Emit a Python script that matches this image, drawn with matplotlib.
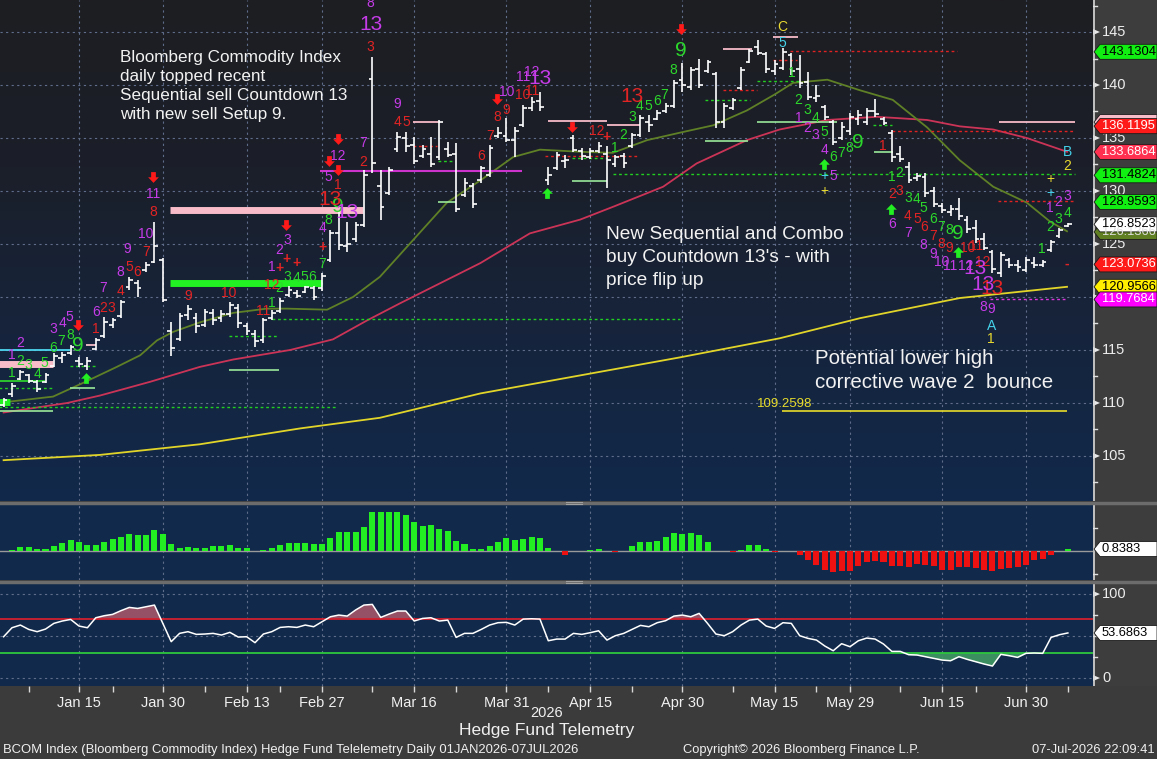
import numpy as np
import matplotlib.pyplot as plt
from matplotlib.colors import LinearSegmentedColormap
from matplotlib.path import Path
from matplotlib.patches import Polygon
from matplotlib.lines import Line2D

plt.rcParams['font.family'] = ['Liberation Sans', 'DejaVu Sans']

# ---- price bars (BCOM daily, 02-Jan-2026 .. 07-Jul-2026, one entry per trading day)
highs = [110.5, 111.9, 113.1, 112.7, 112.2, 112.8, 114.7, 114.8, 115.5, 114.3,
         114.3, 116.1, 118.1, 118.0, 119.7, 121.9, 121.6, 123.3, 127.1, 123.7,
         117.6, 118.5, 119.2, 118.5, 118.9, 118.9, 118.8, 119.5, 119.3, 117.5,
         116.9, 118.0, 118.8, 119.9, 121.0, 120.7, 121.0, 121.0, 122.3, 126.3,
         128.0, 127.1, 127.1, 132.0, 142.6, 132.0, 132.3, 135.6, 135.6, 135.1,
         134.3, 135.1, 136.7, 134.6, 134.5, 131.2, 130.8, 132.4, 134.3, 136.0,
         136.9, 136.0, 138.1, 138.9, 139.3, 132.3, 133.7, 133.4, 135.3, 134.1,
         134.1, 134.6, 134.2, 133.4, 133.6, 135.5, 137.2, 137.2, 137.6, 138.3,
         140.5, 142.1, 141.7, 142.5, 142.4, 141.2, 138.3, 138.8, 141.7, 143.4,
         144.2, 143.1, 142.4, 143.5, 143.0, 142.8, 141.2, 140.0, 138.1, 136.7,
         136.5, 137.4, 137.6, 137.8, 138.7, 137.0, 135.8, 134.2, 132.7, 131.7,
         131.7, 130.4, 128.9, 128.7, 129.3, 127.6, 127.3, 126.0, 124.4, 124.2,
         123.7, 123.5, 123.8, 123.8, 123.5, 125.4, 126.5, 127.0]
lows = [109.6, 110.6, 112.2, 111.9, 111.0, 111.9, 113.4, 113.8, 114.5, 113.4,
        113.1, 115.0, 116.1, 117.1, 118.0, 120.7, 120.0, 122.4, 123.2, 119.5,
        114.4, 115.8, 117.8, 116.6, 117.2, 117.4, 117.6, 118.1, 117.1, 116.4,
        115.3, 115.7, 117.8, 118.5, 120.0, 119.9, 120.4, 119.7, 120.6, 123.3,
        124.4, 124.2, 125.2, 126.6, 131.7, 127.3, 129.6, 133.7, 133.7, 132.5,
        133.1, 132.3, 132.9, 133.2, 128.0, 129.4, 128.4, 130.8, 131.3, 135.0,
        134.6, 133.2, 136.0, 137.5, 137.5, 130.6, 132.0, 132.2, 133.7, 132.9,
        133.0, 133.6, 130.3, 132.3, 132.2, 134.1, 135.1, 135.6, 136.7, 137.4,
        137.8, 139.3, 139.5, 139.7, 141.1, 135.9, 135.9, 137.6, 139.5, 142.1,
        142.8, 141.1, 140.9, 141.4, 140.9, 139.7, 138.6, 138.4, 136.7, 134.3,
        134.8, 135.3, 136.2, 136.2, 137.0, 136.2, 132.7, 132.7, 130.8, 130.9,
        129.4, 128.5, 127.9, 127.6, 127.3, 126.0, 125.1, 124.4, 122.3, 121.9,
        122.7, 122.4, 122.4, 122.7, 122.8, 124.2, 125.6, 126.6]
opens = [109.8, 110.8, 112.3, 112.6, 112.0, 112.0, 113.5, 114.2, 114.7, 114.0,
         113.5, 115.1, 116.3, 117.4, 118.2, 120.9, 121.3, 122.5, 123.3, 123.5,
         116.8, 116.0, 118.3, 118.0, 117.4, 118.5, 118.0, 118.4, 119.0, 117.3,
         116.5, 115.9, 118.0, 118.7, 120.2, 120.4, 120.5, 120.8, 120.8, 123.5,
         126.0, 124.8, 125.5, 126.8, 140.6, 130.5, 129.8, 134.0, 135.0, 134.3,
         133.3, 133.5, 133.2, 134.0, 133.5, 129.6, 130.5, 131.0, 131.5, 135.2,
         135.2, 134.8, 136.2, 137.8, 138.5, 131.0, 132.2, 132.8, 135.0, 133.8,
         133.2, 133.8, 133.5, 132.5, 133.3, 134.2, 135.3, 136.5, 136.8, 137.5,
         138.0, 140.5, 139.8, 141.5, 141.3, 141.0, 136.5, 137.8, 139.7, 142.2,
         143.6, 142.9, 141.3, 141.6, 142.8, 141.5, 140.3, 138.8, 137.9, 136.5,
         135.0, 135.7, 136.8, 136.5, 137.5, 136.8, 135.5, 133.5, 132.3, 131.2,
         131.3, 130.0, 128.6, 128.0, 128.3, 127.3, 126.5, 125.5, 124.2, 122.3,
         123.5, 123.0, 122.5, 123.2, 123.0, 124.4, 125.8, 126.7]
closes = [110.3, 111.6, 112.9, 112.1, 111.3, 112.6, 114.4, 114.5, 115.3, 113.7,
          114.0, 115.9, 117.6, 117.8, 119.5, 121.6, 120.8, 123.0, 124.8, 119.7,
          115.2, 118.2, 118.9, 117.3, 118.6, 117.8, 118.4, 119.2, 117.5, 116.8,
          115.8, 117.8, 118.5, 119.6, 120.7, 120.1, 120.9, 120.0, 122.0, 126.0,
          124.9, 125.0, 126.8, 131.5, 132.6, 128.5, 132.0, 135.1, 134.2, 132.8,
          134.0, 132.5, 136.5, 133.4, 128.3, 130.8, 128.8, 132.2, 134.1, 135.5,
          134.8, 135.7, 137.8, 138.4, 137.9, 131.5, 133.4, 132.9, 133.9, 133.3,
          133.8, 134.2, 132.9, 133.2, 132.6, 135.3, 136.9, 136.2, 137.4, 138.0,
          140.2, 140.0, 141.4, 140.0, 142.2, 136.5, 138.0, 138.6, 141.4, 143.2,
          143.0, 141.5, 142.0, 143.1, 141.3, 140.2, 138.9, 139.0, 137.0, 134.6,
          136.0, 137.0, 137.2, 137.5, 137.3, 136.4, 133.2, 133.0, 131.0, 131.4,
          129.8, 128.8, 128.2, 128.3, 127.6, 126.4, 125.5, 124.6, 122.6, 124.0,
          123.0, 122.8, 123.5, 123.0, 123.3, 125.2, 126.3, 126.85]

# ---- moving averages (bar index, value)
ma_fast_idx = [0.4, 5.9, 9.5, 13.5, 16.3, 18.3, 20.2, 23.4, 27.4, 31.4, 33.8, 38.6,
               41.7, 44.9, 48.9, 52.9, 56.9, 60.8, 64.0, 68.8, 72.7, 76.8, 80.7, 84.7,
               88.7, 92.0, 94.2, 98.3, 102.2, 106.1, 110.2, 114.1, 118.1, 122.1, 124.9, 126.9]
ma_fast = [110.1, 110.6, 111.9, 113.4, 114.5, 115.9, 116.7, 117.6, 118.5, 118.9, 118.9, 118.8,
           120.0, 121.9, 125.4, 128.9, 131.0, 133.2, 133.9, 133.7, 133.6, 134.8, 135.5, 136.2,
           137.6, 139.1, 140.2, 140.5, 139.5, 138.6, 136.0, 132.9, 130.4, 128.9, 127.1, 126.2]
ma_mid_idx = [0, 7.6, 11.5, 17.5, 23.4, 27.4, 34.2, 39.3, 43.4, 47.3, 56.9, 62.8, 68.8,
              72.7, 78.7, 82.7, 88.7, 92.6, 98.3, 104.2, 110.2, 114.1, 118.1, 122.1, 126.9]
ma_mid = [109.1, 110.0, 110.7, 112.0, 113.4, 114.1, 115.0, 116.0, 117.8, 119.4, 123.2, 126.0, 127.3,
          128.5, 130.4, 132.6, 134.8, 135.8, 136.7, 137.0, 136.7, 136.1, 135.8, 135.0, 133.7]
ma_slow_idx = [0, 11.5, 23.4, 35.4, 44.9, 56.9, 68.8, 80.7, 92.6, 102.2, 114.1, 126.9]
ma_slow = [104.6, 105.1, 106.1, 107.6, 108.6, 110.9, 112.6, 114.3, 116.1, 118.0, 119.9, 120.96]

# ---- lower panels
macd_hist = [0, 0.4, 1.7, 1.7, 0.9, 0.9, 2.1, 3.6, 4.7, 4.0,
             2.6, 2.6, 4.0, 5.1, 6.1, 7.3, 6.9, 6.9, 9.0, 7.4,
             3.0, 1.4, 1.9, 1.3, 1.3, 2.1, 2.1, 2.6, 1.4, 1.3,
             0, 0.4, 1.3, 2.6, 3.6, 3.6, 3.6, 3.0, 3.0, 5.6,
             8.1, 8.1, 8.1, 10.4, 16.7, 16.7, 16.6, 16.7, 15.4, 12.4,
             10.7, 11.1, 9.4, 8.6, 4.3, 3.0, 0.9, 0.9, 2.1, 3.9,
             5.6, 4.7, 5.1, 6.0, 5.6, 1.3, 0, -1.7, 0, 0,
             0.4, 0.9, 0, -0.6, 0, 2.1, 3.9, 3.9, 4.3, 6.0,
             7.7, 7.3, 7.7, 6.9, 3.9, 0, 0, -0.4, 0.4, 2.6,
             2.6, 0.9, -0.6, 0, 0, -1.7, -3.9, -6.0, -8.1, -9.0,
             -8.6, -8.6, -6.4, -4.7, -4.3, -4.7, -6.6, -6.6, -6.9, -5.6,
             -6.0, -6.6, -8.1, -8.1, -6.9, -6.9, -7.3, -8.1, -8.6, -7.7,
             -7.3, -6.9, -6.0, -4.0, -3.3, -1.7, 0, 0.8383]
rsi = [49.2, 59.9, 63.1, 57.9, 55.2, 58.3, 65.1, 67.9, 69.8, 61.9,
       59.9, 71.8, 74.2, 75.8, 80.2, 84.1, 82.9, 84.9, 86.9, 65.1,
       43.3, 53.2, 55.2, 52.0, 52.4, 53.2, 51.2, 54.4, 48.8, 49.2,
       42.1, 52.4, 55.2, 60.3, 61.1, 60.3, 63.1, 61.1, 67.1, 73.0,
       75.0, 73.8, 81.0, 86.9, 87.7, 72.2, 76.2, 79.8, 79.8, 67.9,
       71.0, 71.8, 67.9, 69.0, 48.4, 53.2, 53.2, 57.9, 63.1, 65.9,
       66.3, 63.1, 70.2, 70.6, 70.2, 44.4, 46.4, 46.4, 53.2, 52.0,
       54.0, 56.3, 45.2, 50.4, 53.2, 57.9, 62.7, 61.1, 65.9, 68.3,
       73.8, 75.0, 73.0, 77.0, 65.1, 52.4, 50.4, 55.2, 63.1, 69.0,
       70.2, 61.9, 59.1, 65.9, 65.1, 50.4, 47.2, 45.2, 38.1, 32.5,
       40.9, 37.3, 44.4, 47.6, 46.4, 40.5, 31.7, 31.7, 27.8, 27.4,
       25.4, 23.4, 21.4, 20.6, 25.4, 22.2, 19.4, 16.7, 14.3, 28.2,
       26.6, 24.6, 29.4, 29.8, 29.4, 48.4, 51.6, 53.6863]

# ---- x axis labels
tick_idx = [9, 19, 29, 38, 49, 60, 70, 81, 92, 101, 112, 122]
tick_labels = ['Jan 15', 'Jan 30', 'Feb 13', 'Feb 27', 'Mar 16', 'Mar 31',
               'Apr 15', 'Apr 30', 'May 15', 'May 29', 'Jun 15', 'Jun 30']
minor_idx = [3, 13, 24, 33, 44, 54, 65, 75, 87, 97, 107, 116, 127]

# ---- TD count labels (text, bar index, price)
green_counts = [('1', 1.0, 112.8), ('2', 2.0, 114.0), ('3', 2.9, 113.6), ('4', 4.0, 112.7),
                ('5', 4.8, 113.8), ('6', 5.9, 115.2), ('7', 6.9, 115.8), ('8', 7.9, 116.4),
                ('1', 32.0, 119.4), ('2', 32.9, 120.8), ('3', 33.8, 121.9), ('4', 34.9, 121.8),
                ('5', 35.9, 121.9), ('6', 36.8, 121.9), ('7', 38.0, 123.1), ('8', 38.8, 127.3),
                ('1', 72.9, 134.1), ('2', 73.9, 135.3), ('3', 75.0, 137.0), ('4', 75.9, 138.0),
                ('5', 76.9, 138.0), ('6', 78.0, 138.5), ('7', 78.8, 139.1), ('8', 79.9, 141.4),
                ('1', 94.0, 141.1), ('2', 94.8, 138.6), ('3', 95.9, 137.6), ('4', 96.9, 136.9),
                ('5', 97.9, 135.6), ('6', 99.0, 133.2), ('7', 99.9, 133.6), ('8', 100.9, 134.1),
                ('1', 106.0, 131.3), ('2', 106.9, 131.7), ('3', 107.9, 129.3), ('4', 108.9, 129.2),
                ('5', 109.8, 128.4), ('6', 110.9, 127.4), ('7', 111.9, 126.6), ('8', 112.8, 126.3),
                ('1', 123.9, 124.5), ('2', 124.9, 126.6), ('3', 125.8, 127.4), ('4', 126.9, 127.9)]
green_nines = [(8.9, 115.4), (39.9, 128.5), (80.8, 143.3), (101.9, 134.6), (113.9, 126.0)]
red_counts = [('1', 11.0, 117.0), ('2', 11.9, 119.0), ('3', 12.9, 119.0), ('4', 14.0, 120.6),
              ('5', 15.0, 122.8), ('6', 15.9, 122.4), ('7', 17.0, 124.2), ('8', 17.8, 128.0),
              ('9', 22.0, 120.1), ('10', 26.9, 120.4), ('11', 31.0, 118.7), ('12', 32.0, 121.1),
              ('1', 39.9, 130.6), ('2', 42.9, 132.7), ('3', 43.8, 143.6), ('4', 47.0, 136.5),
              ('5', 48.0, 136.5), ('6', 57.0, 133.3), ('7', 58.0, 135.2), ('8', 58.9, 137.0),
              ('9', 60.0, 137.6), ('10', 61.9, 139.1), ('11', 63.1, 139.4), ('12', 70.8, 135.7),
              ('1', 104.9, 134.2), ('2', 106.0, 129.7), ('3', 106.9, 130.0), ('4', 107.9, 127.6),
              ('5', 109.0, 127.4), ('6', 109.8, 126.6), ('7', 110.9, 125.8), ('8', 111.9, 125.0),
              ('9', 112.8, 124.6), ('10', 115.0, 124.6), ('11', 116.0, 124.8), ('12', 116.9, 123.3),
              ('+', 32.9, 122.7), ('+', 33.8, 123.6), ('+', 35.0, 123.2), ('+', 38.0, 124.7),
              ('+', 72.0, 135.1), ('-', 126.9, 123.1)]
red_thirteens = [(39.0, 129.2), (75.0, 138.9), (117.9, 120.8)]
purple_counts = [('1', 1.0, 114.5), ('2', 2.0, 115.7), ('3', 5.9, 117.0), ('4', 7.0, 117.5),
                 ('5', 7.9, 118.1), ('6', 11.0, 118.6), ('7', 11.9, 120.8), ('8', 13.9, 122.4),
                 ('9', 14.8, 124.5), ('10', 16.9, 125.9), ('11', 17.8, 129.7),
                 ('1', 32.0, 122.8), ('2', 32.9, 124.4), ('3', 33.8, 125.4), ('4', 38.0, 126.5),
                 ('5', 38.8, 131.3), ('12', 39.9, 133.3), ('7', 42.9, 134.5), ('8', 43.8, 147.7),
                 ('9', 47.0, 138.2), ('10', 60.0, 139.3), ('11', 62.0, 140.8), ('12', 63.0, 141.2),
                 ('1', 94.9, 136.9), ('2', 95.9, 135.9), ('3', 96.9, 135.3), ('4', 97.9, 133.9),
                 ('5', 99.0, 131.4), ('6', 106.0, 126.9), ('7', 107.9, 126.0), ('8', 109.8, 124.9),
                 ('9', 110.9, 124.1), ('10', 112.0, 123.3), ('11', 112.9, 122.9), ('12', 114.8, 122.9),
                 ('8', 116.9, 119.1), ('9', 117.9, 118.9),
                 ('1', 124.9, 128.4), ('2', 125.8, 129.0), ('3', 126.9, 129.5)]
purple_thirteens = [(41.0, 128.0), (43.8, 145.7), (64.0, 140.6), (115.9, 122.7), (116.9, 121.2)]
cyan_marks = [('5', 92.9, 144.0), ('+', 97.9, 131.4), ('A', 117.9, 117.3), ('+', 124.9, 129.8), ('B', 126.9, 133.7)]
yellow_marks = [('C', 92.9, 145.5), ('+', 97.9, 130.0), ('1', 117.8, 116.0), ('+', 124.9, 131.1), ('2', 126.9, 132.4)]
sell_arrows = [(8.9, 117.4), (17.8, 131.3), (33.7, 126.8), (39.9, 132.0), (38.8, 132.8),
               (39.9, 134.9), (58.9, 138.7), (67.8, 136.0), (80.8, 145.3)]
buy_arrows = [(9.8, 112.4), (64.8, 129.8), (97.9, 132.5), (105.9, 128.3), (113.9, 124.2)]

# ---- TD levels (start idx, end idx, price, kind)
levels = [(-0.5, 5.9, 113.7, 'pink_thick'), (-0.5, 0.8, 110.1, 'green_thick'),
          (19.9, 42.9, 128.2, 'pink_thick'), (19.9, 38.0, 121.3, 'green_thick'),
          (-0.5, 7.9, 115.0, 'cyan'), (-0.5, 4.9, 112.1, 'green'), (-0.5, 5.8, 111.4, 'green_dot'),
          (-0.5, 39.8, 109.6, 'green_dot'), (-0.5, 5.9, 109.2, 'light'),
          (7.9, 10.9, 111.4, 'light'), (7.9, 10.9, 113.5, 'green_dot'), (9.8, 11.0, 115.5, 'pink'),
          (26.9, 32.9, 113.1, 'light'), (26.9, 32.9, 116.3, 'green_dot'), (32.0, 80.7, 117.9, 'green_dot'),
          (37.8, 61.9, 131.9, 'magenta'), (48.9, 52.1, 136.5, 'pink'), (48.9, 51.7, 134.2, 'red_dot'),
          (51.8, 53.9, 132.8, 'green_dot'), (51.8, 54.0, 129.0, 'light'),
          (65.0, 72.0, 136.6, 'pink'), (64.6, 75.7, 133.3, 'red_dot'), (67.8, 72.0, 133.1, 'green_dot'),
          (67.8, 72.0, 130.9, 'light'), (72.0, 75.9, 136.2, 'pink'), (72.7, 127.9, 131.6, 'green_dot'),
          (83.7, 89.1, 138.6, 'green_dot'), (83.7, 88.8, 134.7, 'light'), (85.8, 89.9, 139.5, 'red_dot'),
          (85.8, 89.3, 143.4, 'pink'), (91.8, 94.8, 144.5, 'pink'), (93.8, 113.8, 143.2, 'red_dot'),
          (91.8, 94.7, 142.4, 'red_dot'), (89.9, 95.0, 140.4, 'green_dot'), (89.9, 99.5, 136.5, 'light'),
          (103.7, 106.0, 136.2, 'green_dot'), (106.0, 127.6, 135.7, 'red_dot'), (118.8, 127.9, 136.5, 'pink'),
          (103.9, 106.1, 133.7, 'light'), (118.7, 127.6, 129.1, 'red_dot'), (117.7, 126.9, 119.8, 'magenta_dot'),
          (92.9, 126.9, 109.2598, 'yellow')]
level_styles = {
    'pink_thick': dict(color='#f7bcc8', lw=5, ls='-'),
    'green_thick': dict(color='#22f022', lw=5, ls='-'),
    'pink': dict(color='#f7bcc8', lw=1.3, ls='-'),
    'cyan': dict(color='#4fd6f0', lw=1.3, ls='-'),
    'green': dict(color='#2ed02e', lw=1.3, ls='-'),
    'light': dict(color='#9ae89a', lw=1.2, ls='-'),
    'green_dot': dict(color='#22d022', lw=1.0, ls=(0, (2, 2))),
    'red_dot': dict(color='#e02222', lw=1.0, ls=(0, (2, 2))),
    'magenta': dict(color='#cc33cc', lw=1.5, ls='-'),
    'magenta_dot': dict(color='#dd33dd', lw=1.0, ls=(0, (2, 2))),
    'yellow': dict(color='#e8dc2a', lw=1.2, ls='-'),
}

# ---- right axis value tags (value, face, text colour); shadows are tags hidden behind others
price_tag_shadows = [(136.5, '#f7bcc8')]
price_tags = [(143.1304, '#11ee11', '#000000'),
              (136.1195, '#ff1a1a', '#ffffff'), (133.6864, '#ff3050', '#ffffff'),
              (131.4824, '#11ee11', '#000000'), (128.9593, '#11ee11', '#000000'),
              (126.1366, '#5f7f22', '#e0e0e0'), (126.8523, '#ffffff', '#000000'),
              (123.0736, '#ff1a1a', '#ffffff'), (120.9566, '#ffee00', '#000000'),
              (119.7684, '#ff00ff', '#ffffff')]
price_ticks = [105, 110, 115, 120, 125, 130, 135, 140, 145]

notes = [(["Bloomberg Commodity Index", "daily topped recent",
           "Sequential sell Countdown 13", "with new sell Setup 9."], 13.9, 142.6, 1.79, 12.3),
         (["New Sequential and Combo", "buy Countdown 13's - with", "price flip up"], 71.9, 125.9, 2.17, 13.8),
         (["Potential lower high", "corrective wave 2  bounce"], 96.8, 114.15, 2.26, 14.8)]

GREEN, RED, PURPLE = '#2cd82c', '#e22424', '#c63ce8'
CYAN, YELLOW = '#45d2ea', '#e8d830'
GRID = dict(color='#5f6c8a', lw=0.8, ls=(0, (2, 3)))
SMALL, BIG = 10, 15

W, H = 1157, 759
fig = plt.figure(figsize=(W / 100, H / 100), dpi=100)
fig.patch.set_facecolor('#3b3b3b')


def box(x0, y0, x1, y1):
    return fig.add_axes([x0 / W, 1 - y1 / H, (x1 - x0) / W, (y1 - y0) / H])


ax = box(0, 0, 1093, 501)
ax_m = box(0, 505, 1093, 580)
ax_r = box(0, 584, 1093, 686)
side = box(1093, 0, 1157, 501)
side_m = box(1093, 505, 1157, 580)
side_r = box(1093, 584, 1157, 686)

XL = (-0.43, 130.0)
PY = (100.75, 148.02)
MY = (-12.4, 19.7)
RY = (-9.5, 112)

n = len(closes)
idx = np.arange(n)

# ---------------- price panel
ax.set_xlim(*XL)
ax.set_ylim(*PY)
bg = LinearSegmentedColormap.from_list('bg', ['#11294b', '#16243c', '#1b1f29', '#1d1e22'])
ax.imshow(np.linspace(0, 1, 256).reshape(-1, 1), cmap=bg, origin='lower', aspect='auto',
          extent=[XL[0], XL[1], PY[0], PY[1]], zorder=0)
for p in price_ticks:
    ax.axhline(p, zorder=1, **GRID)
for t in tick_idx:
    ax.axvline(t, zorder=1, **GRID)

ax.plot(ma_slow_idx, ma_slow, color='#e2d52a', lw=1.3, zorder=2)
ax.plot(ma_mid_idx, ma_mid, color='#cc3457', lw=1.3, zorder=2)
ax.plot(ma_fast_idx, ma_fast, color='#5f8026', lw=1.3, zorder=2)

for x0, x1, p, kind in levels:
    st = level_styles[kind]
    ax.plot([x0, x1], [p, p], color=st['color'], lw=st['lw'], ls=st['ls'],
            solid_capstyle='butt', zorder=2)
ax.text(89.9, 109.9, '109.2598', color='#e8dc2a', fontsize=9.5, ha='left', va='center', zorder=3)

ax.vlines(idx, lows, highs, color='white', lw=1.2, zorder=3)
ax.hlines(opens, idx - 0.45, idx, color='white', lw=1.2, zorder=3)
ax.hlines(closes, idx, idx + 0.45, color='white', lw=1.2, zorder=3)

for lab, x, y in green_counts:
    ax.text(x, y, lab, color=GREEN, fontsize=SMALL, ha='center', va='center', zorder=4)
for x, y in green_nines:
    ax.text(x, y, '9', color=GREEN, fontsize=BIG, ha='center', va='center', zorder=4)
for lab, x, y in red_counts:
    ax.text(x, y, lab, color=RED, fontsize=SMALL, ha='center', va='center', zorder=4,
            fontweight='bold' if lab in '+-' else 'normal')
for x, y in red_thirteens:
    ax.text(x, y, '13', color=RED, fontsize=BIG, ha='center', va='center', zorder=4)
for lab, x, y in purple_counts:
    ax.text(x, y, lab, color=PURPLE, fontsize=SMALL, ha='center', va='center', zorder=4)
for x, y in purple_thirteens:
    ax.text(x, y, '13', color=PURPLE, fontsize=BIG, ha='center', va='center', zorder=4)
for lab, x, y in cyan_marks:
    ax.text(x, y, lab, color=CYAN, fontsize=SMALL, ha='center', va='center', zorder=4)
for lab, x, y in yellow_marks:
    ax.text(x, y, lab, color=YELLOW, fontsize=SMALL, ha='center', va='center', zorder=4)

down = Path([(-0.22, 0.5), (0.22, 0.5), (0.22, 0.02), (0.5, 0.02), (0, -0.5),
             (-0.5, 0.02), (-0.22, 0.02), (-0.22, 0.5)], closed=True)
up = Path([(-0.22, -0.5), (0.22, -0.5), (0.22, -0.02), (0.5, -0.02), (0, 0.5),
           (-0.5, -0.02), (-0.22, -0.02), (-0.22, -0.5)], closed=True)
ax.scatter([a[0] for a in sell_arrows], [a[1] for a in sell_arrows], marker=down,
           s=60, color='#ff1a1a', lw=0, zorder=5)
ax.scatter([a[0] for a in buy_arrows], [a[1] for a in buy_arrows], marker=up,
           s=60, color='#22ee22', lw=0, zorder=5)

for lines, x, y0, pitch, fs in notes:
    for i, line in enumerate(lines):
        ax.text(x, y0 - i * pitch, line, color='#f2f2f2', fontsize=fs, ha='left', va='center', zorder=6)

# ---------------- MACD histogram panel
ax_m.set_xlim(*XL)
ax_m.set_ylim(*MY)
ax_m.set_facecolor('#112a4b')
for t in tick_idx:
    ax_m.axvline(t, zorder=1, **GRID)
ax_m.axhline(0, color='#9a9a9a', lw=1, zorder=2)
ax_m.bar(idx, macd_hist, width=0.72,
         color=['#22ee22' if v >= 0 else '#ee1111' for v in macd_hist], zorder=3)

# ---------------- RSI panel
ax_r.set_xlim(*XL)
ax_r.set_ylim(*RY)
ax_r.set_facecolor('#112a4b')
for t in tick_idx:
    ax_r.axvline(t, zorder=1, **GRID)
for v in (0, 50, 100):
    ax_r.axhline(v, zorder=1, **GRID)
rsi_a = np.array(rsi)
ax_r.fill_between(idx, rsi_a, 70, where=rsi_a > 70, interpolate=True, color='#a4576a', alpha=0.9, lw=0, zorder=2)
ax_r.fill_between(idx, rsi_a, 30, where=rsi_a < 30, interpolate=True, color='#3f9a62', alpha=0.9, lw=0, zorder=2)
ax_r.axhline(70, color='#d0202e', lw=1.3, zorder=3)
ax_r.axhline(30, color='#2ec83e', lw=1.3, zorder=3)
ax_r.plot(idx, rsi_a, color='white', lw=1.1, zorder=4)

for a in (ax, ax_m, ax_r):
    for s in a.spines.values():
        s.set_visible(False)
    a.set_yticks([])
ax.set_xticks([])
ax_m.set_xticks([])
ax_r.set_xticks(tick_idx)
ax_r.set_xticklabels(tick_labels)
ax_r.set_xticks(minor_idx, minor=True)
ax_r.tick_params(axis='x', which='both', colors='#d8d8d8', length=4, width=1, labelsize=10.5,
                 labelcolor='#f0f0f0', pad=3)

# ---------------- right value strips


def add_tag(a, v, fc, half, txt=None, tc='#000000'):
    a.add_patch(Polygon([(1, v), (7, v + half), (64, v + half), (64, v - half), (7, v - half)],
                        closed=True, fc=fc, ec='#1a1a1a', lw=0.6, zorder=5))
    if txt:
        a.text(9, v, txt, color=tc, fontsize=9.3, ha='left', va='center', zorder=6)


def strip(a, ylim, ticks, labels, minor, tags, half, shadows=()):
    a.set_xlim(0, 64)
    a.set_ylim(*ylim)
    a.set_facecolor('#3d3d3d')
    a.set_xticks([])
    a.set_yticks([])
    for s in a.spines.values():
        s.set_visible(False)
    a.axvline(0.5, color='#d8d8d8', lw=1.2)
    tri = (ylim[1] - ylim[0]) * 3.0 / a.bbox.height
    for v, lab in zip(ticks, labels):
        a.add_patch(Polygon([(0, v + tri), (7, v), (0, v - tri)], closed=True, fc='#e8e8e8', lw=0))
        if lab:
            a.text(9, v, lab, color='#ececec', fontsize=10.5, ha='left', va='center')
    for v in minor:
        a.plot([0, 4], [v, v], color='#e0e0e0', lw=1)
    for v, fc in shadows:
        add_tag(a, v, fc, half)
    for v, fc, tc in tags:
        add_tag(a, v, fc, half, f'{v:.4f}', tc)


fig.canvas.draw()
strip(side, PY, price_ticks, [str(p) for p in price_ticks],
      [102.5, 107.5, 112.5, 117.5, 122.5, 127.5, 132.5, 137.5, 142.5, 147.5],
      price_tags, 0.71, price_tag_shadows)
strip(side_m, MY, [], [], [-10, 10], [(0.8383, '#ffffff', '#000000')], 3.2)
strip(side_r, RY, [0, 100], ['0', '100'], [25, 50, 75], [(53.6863, '#ffffff', '#000000')], 8.9)

# ---------------- separators and footer
for yy in (503, 582):
    fig.add_artist(Line2D([0, 1], [1 - yy / H] * 2, color='#6c6c6c', lw=2.5, transform=fig.transFigure))
    fig.add_artist(Line2D([566 / W, 582 / W], [1 - (yy - 1.2) / H] * 2, color='#a0a0a0', lw=0.8,
                          transform=fig.transFigure))
    fig.add_artist(Line2D([566 / W, 582 / W], [1 - (yy + 1.2) / H] * 2, color='#a0a0a0', lw=0.8,
                          transform=fig.transFigure))

fig.text(547 / W, 1 - 713 / H, '2026', color='#f0f0f0', fontsize=10.5, ha='center', va='center')
fig.text(547 / W, 1 - 731 / H, 'Hedge Fund Telemetry', color='#f0f0f0', fontsize=12.5, ha='center', va='center')
fig.text(3 / W, 1 - 750 / H,
         'BCOM Index (Bloomberg Commodity Index) Hedge Fund Telelemetry Daily 01JAN2026-07JUL2026',
         color='#f0f0f0', fontsize=9.4, ha='left', va='center')
fig.text(683 / W, 1 - 750 / H, 'Copyright\u00a9 2026 Bloomberg Finance L.P.', color='#f0f0f0',
         fontsize=9.3, ha='left', va='center')
fig.text(1155 / W, 1 - 750 / H, '07-Jul-2026 22:09:41', color='#f0f0f0', fontsize=9.3,
         ha='right', va='center')

fig.savefig('out.png', dpi=100, facecolor=fig.get_facecolor())
